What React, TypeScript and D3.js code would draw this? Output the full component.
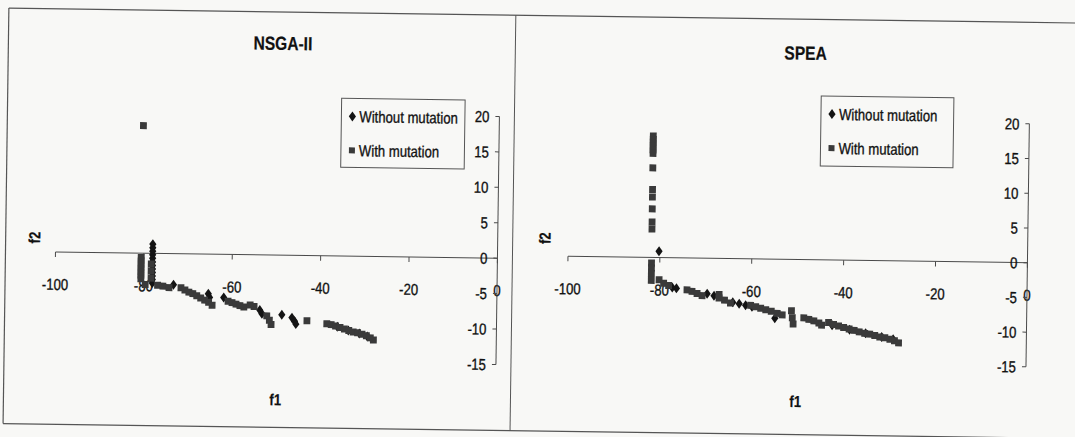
import React from "react";
import * as d3 from "d3";

// ---------- data ----------
const xTicks = [-100, -80, -60, -40, -20, 0];
const yTicks = [20, 15, 10, 5, 0, -5, -10, -15];
const seriesNames = ["Without mutation", "With mutation"];
const panelTitles = ["NSGA-II", "SPEA"];

const nsgaWithout: [number, number][] = [
  [-78, 1.3], [-78, 0.8], [-78, 0.3], [-78, -0.2], [-78, -0.7], [-78, -1.2], [-78, -1.7],
  [-78, -2.2], [-78, -2.7], [-78, -3.2], [-78, -3.7], [-78, -4.2],
  [-73.2, -4.4],
  [-65.3, -5.6], [-65.0, -6.1],
  [-61.8, -6.1],
  [-53.6, -7.8], [-53.1, -8.3],
  [-48.6, -8.4],
  [-46.3, -8.8], [-45.7, -9.3], [-45.4, -9.7],
  [-36.0, -10.0], [-33.5, -10.5], [-31.0, -10.9], [-29.2, -11.3],
];

const nsgaWith: [number, number][] = [
  [-80.5, 18.0],
  [-80.6, -0.6], [-80.6, -1.1], [-80.6, -1.6], [-80.6, -2.1], [-80.6, -2.6], [-80.6, -3.1], [-80.6, -3.6],
  [-78.3, -1.5], [-78.3, -2.5], [-78.3, -3.5],
  [-79.6, -4.4], [-76.8, -4.5], [-75.6, -4.6], [-74.2, -4.8],
  [-71.5, -4.8], [-70.6, -5.1], [-69.7, -5.4], [-68.8, -5.6], [-67.9, -5.9], [-67.0, -6.2],
  [-66.1, -6.5], [-65.2, -6.8], [-64.4, -7.2],
  [-60.8, -6.6], [-59.9, -6.8], [-59.0, -7.0], [-58.1, -7.2], [-57.2, -7.4],
  [-55.8, -7.1], [-54.9, -7.3], [-52.0, -8.6], [-51.4, -9.2], [-51.0, -9.8],
  [-42.9, -9.2],
  [-38.4, -9.6], [-37.4, -9.7], [-36.4, -9.9], [-35.4, -10.1], [-34.4, -10.3], [-33.4, -10.5],
  [-32.4, -10.7], [-31.4, -10.8], [-30.4, -11.0], [-29.4, -11.2], [-28.5, -11.5], [-27.8, -11.8],
];

const speaWithout: [number, number][] = [
  [-80.2, 0.9],
  [-77.2, -4.3], [-76.3, -4.4],
  [-69.6, -5.1], [-68.1, -5.4],
  [-64.0, -6.3], [-62.6, -6.5], [-61.2, -6.7], [-59.8, -6.9],
  [-54.8, -8.5],
  [-42.3, -9.4], [-38.5, -10.0], [-35.0, -10.5], [-31.5, -11.0], [-29.0, -11.3],
];

const speaWith: [number, number][] = [
  [-81.8, 17.5], [-81.8, 17.0], [-81.8, 16.5], [-81.8, 16.0], [-81.8, 15.5], [-81.8, 15.0],
  [-81.8, 12.9], [-81.8, 9.8], [-81.8, 8.7], [-81.8, 7.0], [-81.8, 5.1], [-81.8, 4.1],
  [-81.8, -0.8], [-81.8, -1.5], [-81.8, -2.3],
  [-81.8, -3.3], [-80.1, -3.2], [-79.1, -3.7], [-78.0, -4.0],
  [-74.0, -4.6], [-72.9, -4.8], [-71.8, -5.1], [-70.7, -5.4],
  [-67.0, -5.2], [-67.0, -5.7], [-65.8, -6.0], [-64.5, -6.4],
  [-60.1, -6.7], [-59.0, -6.9], [-57.9, -7.1], [-56.8, -7.3], [-55.6, -7.5], [-54.3, -7.8], [-53.2, -8.0],
  [-51.2, -7.4], [-51.0, -8.4], [-50.8, -9.3],
  [-48.5, -8.4], [-47.4, -8.6], [-46.3, -8.8], [-45.2, -9.1], [-44.6, -9.4],
  [-43.1, -9.0], [-42.0, -9.3], [-40.9, -9.5], [-39.8, -9.7], [-38.6, -9.9], [-37.5, -10.1],
  [-36.4, -10.3], [-35.2, -10.5], [-34.1, -10.6], [-33.0, -10.8], [-31.9, -11.0], [-30.8, -11.1],
  [-29.7, -11.3], [-28.7, -11.5], [-27.8, -11.8],
];

// ---------- layout ----------
const W = 1075;
const H = 437;
const FONT = "'Liberation Sans',Arial,sans-serif";
const NARROW = 0.82;
const TEXT_COLOR = "#111";
const DIAMOND_COLOR = "#141414";
const SQUARE_COLOR = "#3a3a3a";
const AXIS_COLOR = "#4a4a4a";

const layouts = [
  {
    xRange: [56, 498], yRange: [365, 117],
    title: [280.5, 53.5], f1: [277.8, 409], f2: [34.7, 244.5],
    legend: [340, 101, 123.5, 69],
    without: nsgaWithout, withM: nsgaWith,
  },
  {
    xRange: [568.5, 1028], yRange: [360, 117],
    title: [803.3, 56], f1: [797.8, 403.5], f2: [545, 238],
    legend: [819.5, 92, 132.7, 70],
    without: speaWithout, withM: speaWith,
  },
];

const diamondPath = "M0,-5L3.6,0L0,5L-3.6,0Z";

function Square({ cx, cy }: { cx: number; cy: number }) {
  return <rect x={cx - 3.4} y={cy - 3.5} width={6.8} height={7} fill={SQUARE_COLOR} />;
}
function Diamond({ cx, cy }: { cx: number; cy: number }) {
  return <path d={diamondPath} transform={`translate(${cx},${cy})`} fill={DIAMOND_COLOR} />;
}

// narrow text (Arial Narrow look) via horizontal compression
function NText({
  x, y, size, anchor = "start", bold = false, rotate = 0, middle = false, children,
}: {
  x: number; y: number; size: number; anchor?: string; bold?: boolean; rotate?: number; middle?: boolean; children: any;
}) {
  return (
    <text
      transform={`translate(${x},${y})${rotate ? ` rotate(${rotate})` : ""} scale(${NARROW},1)`}
      textAnchor={anchor}
      dy={middle ? "0.36em" : undefined}
      fontSize={size}
      fontWeight={bold ? "bold" : "normal"}
      fontFamily={FONT}
      fill={TEXT_COLOR}
      stroke={TEXT_COLOR}
      strokeWidth={bold ? 0.2 : 0.35}
    >
      {children}
    </text>
  );
}

function Panel({ cfg, title }: { cfg: any; title: string }) {
  const x = d3.scaleLinear().domain([-100, 0]).range(cfg.xRange);
  const y = d3.scaleLinear().domain([-15, 20]).range(cfg.yRange);
  const x0 = x(0);
  const y0 = y(0);
  const [lx, ly, lw, lh] = cfg.legend;
  return (
    <g>
      <NText x={cfg.title[0]} y={cfg.title[1]} size={19} anchor="middle" bold>
        {title}
      </NText>
      {/* x axis */}
      <line x1={x(-100)} x2={x0} y1={y0} y2={y0} stroke={AXIS_COLOR} strokeWidth={1} />
      {xTicks.map((t) => (
        <g key={"xt" + t}>
          <line x1={x(t)} x2={x(t)} y1={y0} y2={y0 + 5} stroke={AXIS_COLOR} strokeWidth={1} />
          <NText x={x(t)} y={y0 + 38} size={16} anchor="middle">
            {t}
          </NText>
        </g>
      ))}
      {/* y axis */}
      <line x1={x0} x2={x0} y1={y(20)} y2={y(-15)} stroke={AXIS_COLOR} strokeWidth={1} />
      {yTicks.map((t) => (
        <g key={"yt" + t}>
          <line x1={x0 - 4} x2={x0} y1={y(t)} y2={y(t)} stroke={AXIS_COLOR} strokeWidth={1} />
          <NText x={x0 - 10} y={y(t)} size={16} anchor="end" middle>
            {t}
          </NText>
        </g>
      ))}
      {/* axis titles */}
      <NText x={cfg.f1[0]} y={cfg.f1[1]} size={16} anchor="middle" bold>
        f1
      </NText>
      <NText x={cfg.f2[0]} y={cfg.f2[1]} size={16} anchor="middle" bold rotate={-90} middle>
        f2
      </NText>
      {/* series */}
      {cfg.without.map((p: [number, number], i: number) => (
        <Diamond key={"d" + i} cx={x(p[0])} cy={y(p[1])} />
      ))}
      {cfg.withM.map((p: [number, number], i: number) => (
        <Square key={"s" + i} cx={x(p[0])} cy={y(p[1])} />
      ))}
      {/* legend */}
      <rect x={lx} y={ly} width={lw} height={lh} fill="none" stroke="#555" strokeWidth={1} />
      <Diamond cx={lx + 11} cy={ly + 18} />
      <NText x={lx + 18} y={ly + 18} size={16} middle>
        {seriesNames[0]}
      </NText>
      <rect x={lx + 11 - 3} y={ly + 52 - 3} width={6} height={6} fill={SQUARE_COLOR} />
      <NText x={lx + 18} y={ly + 52} size={16} middle>
        {seriesNames[1]}
      </NText>
    </g>
  );
}

export default function App() {
  return (
    <svg
      width={W}
      height={H}
      style={{ position: "absolute", left: 0, top: 0, display: "block" }}
      xmlns="http://www.w3.org/2000/svg"
    >
      <rect x={0} y={0} width={W} height={H} fill="#f8f8f6" />
      <g transform="rotate(0.8 537 218)">
        {/* frame */}
        <line x1={6} x2={1090} y1={15.5} y2={15.5} stroke="#555" strokeWidth={1.2} />
        <line x1={6} x2={1090} y1={431} y2={431} stroke="#555" strokeWidth={1.2} />
        <line x1={6} x2={6} y1={15.5} y2={431} stroke="#555" strokeWidth={1.2} />
        <line x1={513} x2={513} y1={15.5} y2={431} stroke="#555" strokeWidth={1} />
        {layouts.map((cfg, i) => (
          <Panel key={i} cfg={cfg} title={panelTitles[i]} />
        ))}
      </g>
    </svg>
  );
}
